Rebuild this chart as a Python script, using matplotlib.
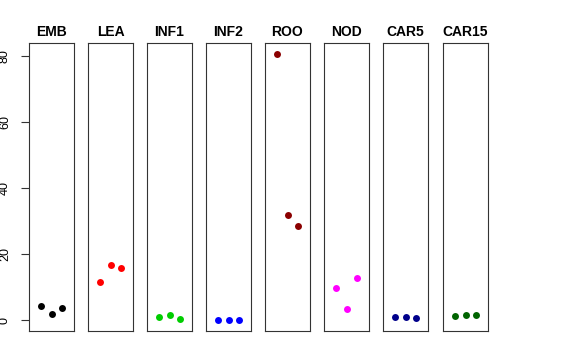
import matplotlib
matplotlib.use("Agg")
import matplotlib.pyplot as plt

categories = ["EMB", "LEA", "INF1", "INF2", "ROO", "NOD", "CAR5", "CAR15"]
values = {
    "EMB":   [4.4, 1.8, 3.6],
    "LEA":   [11.7, 16.8, 15.8],
    "INF1":  [0.9, 1.7, 0.4],
    "INF2":  [0.1, 0.1, 0.2],
    "ROO":   [80.9, 31.9, 28.5],
    "NOD":   [9.9, 3.3, 12.7],
    "CAR5":  [1.0, 1.1, 0.7],
    "CAR15": [1.2, 1.6, 1.6],
}
colors = ["#000000", "#FF0000", "#00CD00", "#0000FF", "#8B0000", "#FF00FF", "#00008B", "#006400"]
replicates = [1, 2, 3]
yticks = [0, 20, 40, 60, 80]

plt.rcParams['font.family'] = ['Liberation Sans', 'DejaVu Sans']

W, H = 576, 360
fig = plt.figure(figsize=(W / 100, H / 100), dpi=100)

lefts = [29, 88, 147, 206, 265, 324, 383, 443]
pw = 45
top, bottom = 43.3, 331
ymin, ymax = -3.25, 84.0

for i, (cat, col) in enumerate(zip(categories, colors)):
    ax = fig.add_axes([lefts[i] / W, 1 - bottom / H, pw / W, (bottom - top) / H])
    ax.plot(replicates, values[cat], 'o', color=col, markersize=5, markeredgewidth=0)
    ax.set_xlim(-0.16, 4.16)
    ax.set_ylim(ymin, ymax)
    ax.set_xticks([])
    for s in ax.spines.values():
        s.set_color('#333333')
        s.set_linewidth(0.8)
    ax.set_title(cat, fontsize=10, fontweight='bold', pad=5.5)
    if i == 0:
        ax.set_yticks(yticks)
        ax.set_yticklabels([str(t) for t in yticks], rotation=90, va='center', fontsize=9)
        ax.tick_params(axis='y', length=5.5, width=0.8, pad=7.5, color='#333333')
    else:
        ax.set_yticks([])

fig.savefig("out.png", dpi=100)
